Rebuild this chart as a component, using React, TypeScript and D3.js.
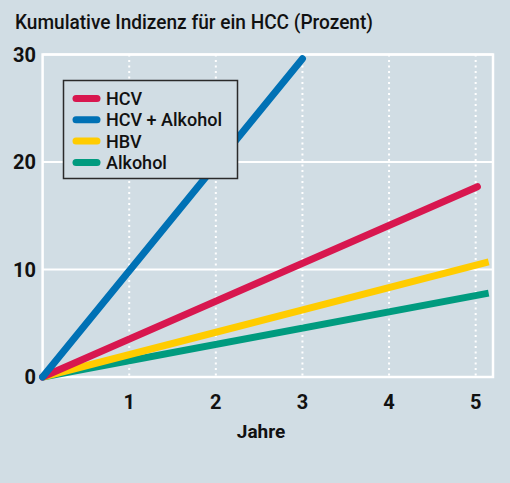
import React from 'react';
import * as d3 from 'd3';

// values (cumulative HCC incidence, percent)
const xTicks = [1, 2, 3, 4, 5];
const yTicks = [0, 10, 20, 30];
const seriesNames = ['HCV', 'HCV + Alkohol', 'HBV', 'Alkohol'];
const seriesColors = ['#d8174f', '#0071b5', '#ffcc00', '#009b7f'];
const hcv = [[0, 0], [5.02, 17.7]];
const hcvAlkohol = [[0, 0], [3, 29.6]];
const hbv = [[0, 0], [5.15, 10.7]];
const alkohol = [[0, 0], [5.15, 7.8]];
const series = [hcv, hcvAlkohol, hbv, alkohol];

const width = 510;
const height = 483;
const bg = '#d1dde4';
const font = "Roboto, 'Open Sans', sans-serif";

export default function App() {
  const x = d3.scaleLinear().domain([0, 5.2]).range([42.6, 493]);
  const y = d3.scaleLinear().domain([0, 30]).range([377, 54.5]);

  const line = d3
    .line<number[]>()
    .x((d) => x(d[0]))
    .y((d) => y(d[1]));

  // draw order: green, yellow, red, blue on top
  const order = [3, 2, 0, 1];

  return (
    <div style={{ position: 'absolute', left: 0, top: 0 }}>
      <svg width={width} height={height} style={{ display: 'block', fontFamily: font }}>
        <rect width={width} height={height} fill={bg} />

        <text x={15} y={29} fontSize={20} fontWeight={500} fill="#111" textLength={358} lengthAdjust="spacingAndGlyphs">
          Kumulative Indizenz für ein HCC (Prozent)
        </text>

        {/* vertical dotted grid */}
        {xTicks.map((t) => (
          <line key={'gx' + t} x1={x(t)} x2={x(t)} y1={y(30)} y2={y(0)}
            stroke="#fff" strokeWidth={2} strokeDasharray="2,3.5" />
        ))}
        {/* horizontal grid */}
        {yTicks.map((t) => (
          <line key={'gy' + t} x1={x(0)} x2={x(5.2)} y1={y(t)} y2={y(t)} stroke="#fff" strokeWidth={2} />
        ))}
        {/* frame */}
        <rect x={x(0)} y={y(30)} width={x(5.2) - x(0)} height={y(0) - y(30)}
          fill="none" stroke="#fff" strokeWidth={2.5} />

        {/* y tick labels */}
        {yTicks.map((t) => (
          <text key={'ty' + t} x={36} y={y(t) + 7} textAnchor="end" fontSize={20} fontWeight={700} fill="#111">
            {t}
          </text>
        ))}
        {/* x tick labels */}
        {xTicks.map((t) => (
          <text key={'tx' + t} x={x(t)} y={409} textAnchor="middle" fontSize={20} fontWeight={700} fill="#111">
            {t}
          </text>
        ))}
        <text x={261} y={438} textAnchor="middle" fontSize={19} fontWeight={700} fill="#111">
          Jahre
        </text>

        {/* lines */}
        {order.map((i) => (
          <path key={'s' + i} d={line(series[i]) || ''} fill="none" stroke={seriesColors[i]}
            strokeWidth={7} strokeLinecap={x(series[i][1][0]) > 485 ? 'butt' : 'round'} />
        ))}

        {/* legend */}
        <rect x={63.5} y={80.5} width={174} height={98} fill={bg} stroke="#2a2a2a" strokeWidth={1.5} />
        {seriesNames.map((name, i) => (
          <g key={name} transform={`translate(0,${98.5 + i * 21.3})`}>
            <line x1={76} x2={97} y1={0} y2={0} stroke={seriesColors[i]} strokeWidth={7} strokeLinecap="round" />
            <text x={106} y={6.5} fontSize={18} fontWeight={500} fill="#111">
              {name}
            </text>
          </g>
        ))}
      </svg>
    </div>
  );
}
